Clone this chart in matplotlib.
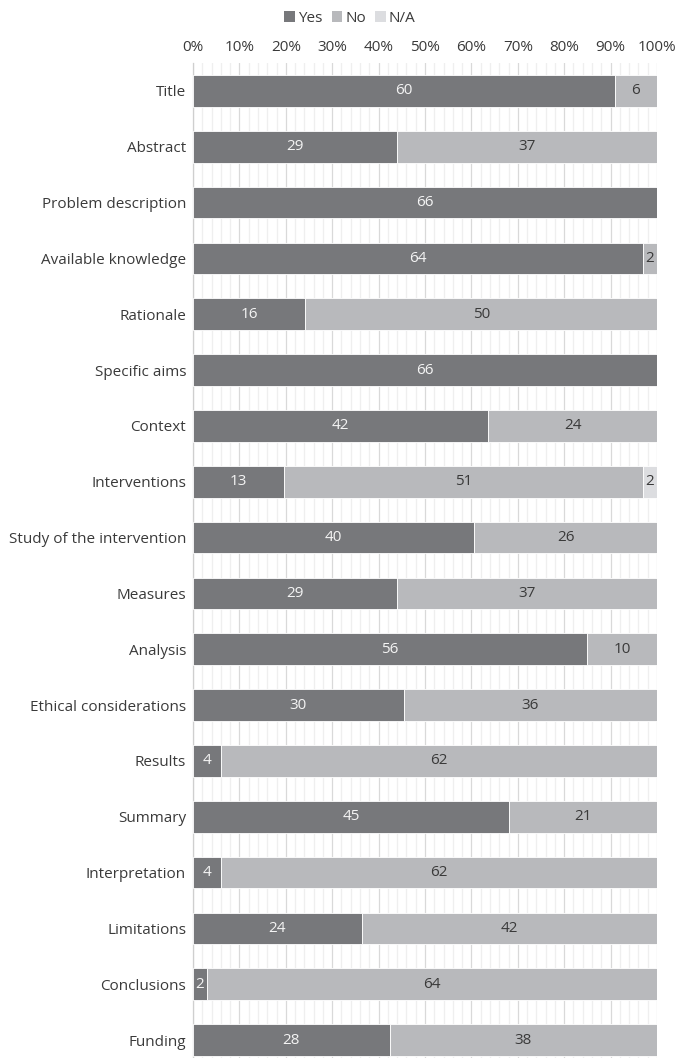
import matplotlib
matplotlib.use("Agg")
import matplotlib.pyplot as plt
import numpy as np
from matplotlib.ticker import MultipleLocator, PercentFormatter
from matplotlib.patches import Patch

plt.rcParams['font.family'] = ['Open Sans', 'DejaVu Sans']

categories = ["Title", "Abstract", "Problem description", "Available knowledge",
              "Rationale", "Specific aims", "Context", "Interventions",
              "Study of the intervention", "Measures", "Analysis",
              "Ethical considerations", "Results", "Summary", "Interpretation",
              "Limitations", "Conclusions", "Funding"]
yes = [60, 29, 66, 64, 16, 66, 42, 13, 40, 29, 56, 30, 4, 45, 4, 24, 2, 28]
no = [6, 37, 0, 2, 50, 0, 24, 51, 26, 37, 10, 36, 62, 21, 62, 42, 64, 38]
na = [0, 0, 0, 0, 0, 0, 0, 2, 0, 0, 0, 0, 0, 0, 0, 0, 0, 0]
series_names = ["Yes", "No", "N/A"]
colors = ["#77787b", "#b8b9bc", "#dcdde0"]
text_colors = ["#f4f4f4", "#3a3a3a", "#3a3a3a"]
FS = 11

fig = plt.figure(figsize=(6.79, 10.58), dpi=100)
ax = fig.add_axes([193/679, 1 - 1068/1058, 464/679, (1068 - 63)/1058])

data = np.array([yes, no, na], dtype=float)
totals = data.sum(axis=0)
pct = data / totals * 100
y = np.arange(len(categories))
left = np.zeros(len(categories))
for i in range(3):
    ax.barh(y, pct[i], left=left, height=0.57, color=colors[i],
            edgecolor="white", linewidth=0.6, zorder=3)
    for j in range(len(categories)):
        if data[i, j] > 0:
            ax.text(left[j] + pct[i, j] / 2, y[j], f"{int(data[i, j])}",
                    ha="center", va="center", fontsize=FS,
                    color=text_colors[i], zorder=4)
    left += pct[i]

ax.set_ylim(len(categories) - 0.5, -0.5)
ax.set_xlim(0, 100)
ax.set_yticks(y)
ax.set_yticklabels(categories, fontsize=FS, color="#3a3a3a")
ax.xaxis.set_major_locator(MultipleLocator(10))
ax.xaxis.set_minor_locator(MultipleLocator(2))
ax.xaxis.set_major_formatter(PercentFormatter(decimals=0))
ax.xaxis.tick_top()
ax.tick_params(axis="x", which="both", length=0, labelsize=FS,
               labelcolor="#3a3a3a", pad=6)
ax.tick_params(axis="y", length=0, pad=5)
ax.grid(axis="x", which="major", color="#d9d9d9", linewidth=0.9, zorder=0)
ax.grid(axis="x", which="minor", color="#efefef", linewidth=0.9, zorder=0)
for s in ["top", "right", "bottom"]:
    ax.spines[s].set_visible(False)
ax.spines["left"].set_color("#cfcfcf")
ax.spines["left"].set_linewidth(0.9)

handles = [Patch(facecolor=c, edgecolor="none") for c in colors]
fig.legend(handles, series_names, loc="center", bbox_to_anchor=(350/679, 1 - 18/1058),
           ncol=3, frameon=False, fontsize=FS, handlelength=0.7, handleheight=0.7,
           handletextpad=0.2, columnspacing=0.6, labelcolor="#3a3a3a")

fig.savefig("out.png", dpi=100)
